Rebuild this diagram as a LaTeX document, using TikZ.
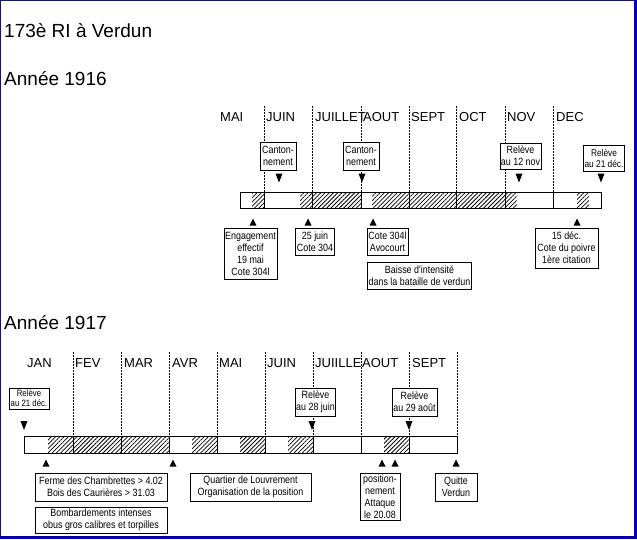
\documentclass[tikz,border=0pt]{standalone}
\usepackage{fontspec}
\setmainfont{Liberation Sans}
\newfontfamily\bxf[FakeStretch=0.85]{Liberation Sans}
\usetikzlibrary{patterns.meta}
\definecolor{framedark}{RGB}{25,25,90}
\definecolor{frameblue}{RGB}{0,0,165}
\tikzset{
 lbl/.style={font=\fontsize{19}{22}\selectfont, anchor=base west, inner sep=0pt},
 month/.style={font=\fontsize{13}{15}\selectfont, anchor=base west, inner sep=0pt},
 box/.style={draw, line width=0.8pt, fill=white, inner xsep=1pt, inner ysep=1pt, align=center, font=\bxf\fontsize{10.5}{12}\selectfont},
 smallbox/.style={box, font=\bxf\fontsize{9.8}{11}\selectfont},
 sepline/.style={line width=0.8pt, dash pattern=on 1.5pt off 1.5pt},
 hatch/.style={pattern={Lines[angle=45,distance=3pt,line width=0.75pt]}},
 barline/.style={line width=0.8pt},
 dtri/.pic={\fill (-3.5,-4.5) -- (3.5,-4.5) -- (0,4.5) -- cycle;},
 utri/.pic={\fill (-3.5,3.5) -- (3.5,3.5) -- (0,-3.5) -- cycle;},
}
\begin{document}
\begin{tikzpicture}[x=1pt,y=-1pt]
\useasboundingbox (0,0) rectangle (637,539);
\fill[white] (0,0) rectangle (637,539);
% frame
\draw[framedark, line width=1pt] (0.5,539) -- (0.5,0.5) -- (637,0.5);
\fill[frameblue] (634,0) rectangle (637,539);
\fill[frameblue] (0,536) rectangle (637,539);

% titles
\node[lbl] (title) at (4,37) {173è RI à Verdun};
\node[lbl] (y1916) at (4,85) {Année 1916};
\node[lbl] (y1917) at (4,329) {Année 1917};

% ===== 1916 =====
\foreach \xx in {264,312,361,409,456,505,553}
  \draw[sepline] (\xx,106) -- (\xx,192);
\node[month] (m16a) at (220,121) {MAI};
\node[month] (m16b) at (266,121) {JUIN};
\node[month] (m16c) at (315,121) {JUILLET};
\node[month] (m16d) at (363,121) {AOUT};
\node[month] (m16e) at (411,121) {SEPT};
\node[month] (m16f) at (459,121) {OCT};
\node[month] (m16g) at (507,121) {NOV};
\node[month] (m16h) at (556,121) {DEC};

\fill[white] (240,192) rectangle (601,208);
\fill[hatch] (252,192) rectangle (264,208);
\fill[hatch] (300,192) rectangle (361,208);
\fill[hatch] (372,192) rectangle (517,208);
\fill[hatch] (577,192) rectangle (589,208);
\foreach \xx in {264,312,361,409,456,505,553}
  \draw[barline] (\xx,192) -- (\xx,208);
\draw[barline] (240,192) rectangle (601,208);

% callouts above
\node[box, minimum width=36pt, minimum height=28pt] (c1) at (278,156) {Canton-\\nement};
\node[box, minimum width=36pt, minimum height=28pt] (c2) at (361,156) {Canton-\\nement};
\node[box, minimum width=39pt, minimum height=26pt] (r1) at (520.5,156) {Relève\\au 12 nov};
\node[smallbox, minimum width=38pt, minimum height=26pt] (r2) at (604,158) {Relève\\au 21 déc.};
\pic (d1) at (279,178) {dtri};
\pic (d2) at (362,178) {dtri};
\pic (d3) at (519,178) {dtri};
\pic (d4) at (601,178) {dtri};

% callouts below
\pic (u1) at (253,222) {utri};
\pic (u2) at (308,222) {utri};
\pic (u3) at (373,222) {utri};
\pic (u4) at (577,222) {utri};
\node[box, minimum width=53pt, minimum height=51pt] (e1) at (250.5,253.5) {Engagement\\effectif\\19 mai\\Cote 304l};
\node[box, minimum width=38pt, minimum height=27pt] (e2) at (315,241.5) {25 juin\\Cote 304};
\node[box, minimum width=41pt, minimum height=27pt] (e3) at (387.5,241.5) {Cote 304l\\Avocourt};
\node[box, minimum width=103pt, minimum height=27pt] (e4) at (419.5,275.5) {Baisse d'intensité\\dans la bataille de verdun};
\node[box, minimum width=63pt, minimum height=40pt] (e5) at (566.5,248) {15 déc.\\Cote du poivre\\1ère citation};

% ===== 1917 =====
\foreach \xx in {73,121,169,217,265,313,361,409,457}
  \draw[sepline] (\xx,352) -- (\xx,436);
\node[month] (m17a) at (27,367) {JAN};
\node[month] (m17b) at (75,367) {FEV};
\node[month] (m17c) at (124,367) {MAR};
\node[month] (m17d) at (172,367) {AVR};
\node[month] (m17e) at (219,367) {MAI};
\node[month] (m17f) at (267,367) {JUIN};
\node[month] (m17g) at (315,367) {JUIILLE};
\node[month] (m17h) at (362,367) {AOUT};
\node[month] (m17i) at (412,367) {SEPT};

\fill[white] (24,436) rectangle (457,453);
\fill[hatch] (48,436) rectangle (169,453);
\fill[hatch] (192,436) rectangle (217,453);
\fill[hatch] (240,436) rectangle (265,453);
\fill[hatch] (288,436) rectangle (313,453);
\fill[hatch] (384,436) rectangle (409,453);
\foreach \xx in {73,121,169,217,265,313,361,409}
  \draw[barline] (\xx,436) -- (\xx,453);
\draw[barline] (24,436) rectangle (457,453);

\node[box, minimum width=40pt, minimum height=21pt, font=\bxf\fontsize{9.2}{10}\selectfont] (a1) at (29,398.5) {Relève\\au 21 déc.};
\node[box, minimum width=39pt, minimum height=28pt] (a2) at (315.5,402) {Relève\\au 28 juin};
\node[box, minimum width=45pt, minimum height=28pt] (a3) at (414.5,402) {Relève\\au 29 août};
\pic (d5) at (24,425.5) {dtri};
\pic (d6) at (312,425.5) {dtri};
\pic (d7) at (409,425.5) {dtri};

\pic (u5) at (46,463) {utri};
\pic (u6) at (173,463) {utri};
\pic (u7) at (382,463) {utri};
\pic (u8) at (395,463) {utri};
\pic (u9) at (456,463) {utri};
\node[box, minimum width=132pt, minimum height=28pt] (b1) at (101,487) {Ferme des Chambrettes > 4.02\\Bois des Caurières > 31.03};
\node[box, minimum width=132pt, minimum height=26pt] (b2) at (101,520) {Bombardements intenses\\obus gros calibres et torpilles};
\node[box, minimum width=121pt, minimum height=28pt] (b3) at (250.5,487) {Quartier de Louvrement\\Organisation de la position};
\node[box, minimum width=40pt, minimum height=47pt] (b4) at (380,496.5) {position-\\nement\\Attaque\\le 20.08};
\node[box, minimum width=42pt, minimum height=28pt] (b5) at (456,487) {Quitte\\Verdun};
\end{tikzpicture}
\end{document}
